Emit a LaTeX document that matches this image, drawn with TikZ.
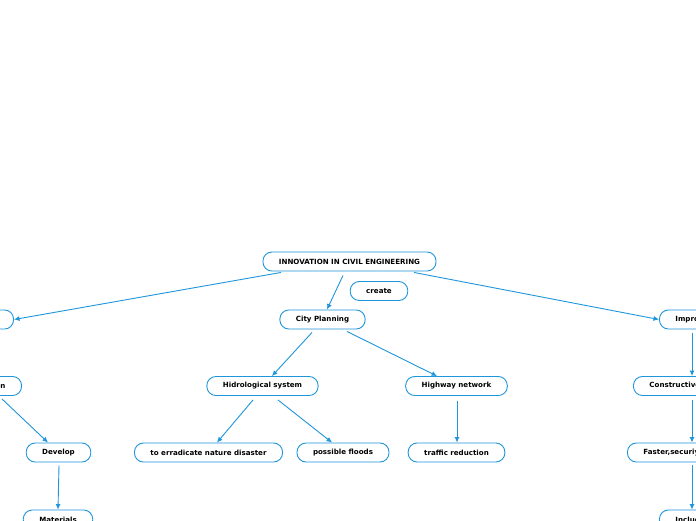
\documentclass[tikz,border=0pt]{standalone}
\usepackage{fontspec}
\setmainfont{DejaVu Sans}
\usetikzlibrary{arrows.meta}
\definecolor{mapblue}{RGB}{30,150,220}
\begin{document}
\begin{tikzpicture}[x=1pt, y=-1pt,
		topic/.style = {draw=mapblue, line width=0.9pt, rounded corners=9pt, fill=white,
			minimum height=19pt, inner xsep=16pt, inner ysep=0pt,
			font=\bfseries\fontsize{7.1}{8}\selectfont},
		link/.style = {draw=mapblue, line width=0.9pt, -{Latex[length=5.5pt,width=5pt]}}]
		\useasboundingbox[clip] (0,0) rectangle (696,520);
		\fill[white] (0,0) rectangle (696,520);
		% centre
		\node [topic] (root) at (349.5,261.5) {INNOVATION IN CIVIL ENGINEERING};
		\node [topic] (create) at (379,291) {create};
		\node [topic] (city) at (322.5,319.5) {City Planning};
		\node [topic, anchor=east] (tech) at (14,319.5) {Technology};
		\node [topic, anchor=west] (impr) at (659,319.5) {Improvement};
		% second row
		\node [topic] (hidro) at (262.5,386) {Hidrological system};
		\node [topic] (highway) at (456.5,386) {Highway network};
		\node [topic, anchor=east] (innov) at (22,386) {Innovation};
		\node [topic, anchor=west] (constr) at (633,386) {Constructive process};
		% third row
		\node [topic] (develop) at (58.5,452.5) {Develop};
		\node [topic] (erradicate) at (208.5,452.5) {to erradicate nature disaster};
		\node [topic] (floods) at (343,452.5) {possible floods};
		\node [topic] (traffic) at (456.5,452.5) {traffic reduction};
		\node [topic, anchor=west] (faster) at (627,452.5) {Faster,securiy};
		% bottom row
		\node [topic] (materials) at (58,519.5) {Materials};
		\node [topic, anchor=west] (inclu) at (659,519.5) {Includes};
		% links
		\draw [link] ([shift={(-68.5,1)}]root.south) -- (tech.east);
		\draw [link] ([shift={(-6.5,4)}]root.south) -- ([xshift=4.5pt]city.north);
		\draw [link] ([shift={(64.5,1)}]root.south) -- (impr.west);
		\draw [link] ([shift={(-10.5,3)}]city.south) -- ([xshift=9.5pt]hidro.north);
		\draw [link] ([shift={(24.5,2)}]city.south) -- ([xshift=-19.5pt]highway.north);
		\draw [link] ([shift={(-9.5,4)}]hidro.south) -- ([xshift=8.5pt]erradicate.north);
		\draw [link] ([shift={(15.5,4)}]hidro.south) -- ([xshift=-11pt]floods.north);
		\draw [link] ([shift={(0.5,5)}]highway.south) -- ([xshift=0.5pt]traffic.north);
		\draw [link] ([shift={(-20,3)}]innov.south east) -- ([xshift=-10.5pt]develop.north);
		\draw [link] ([shift={(0.5,3)}]develop.south) -- (materials.north);
		\draw [link] ([shift={(33,4)}]impr.south west) -- ([xshift=59pt]constr.north west);
		\draw [link] ([shift={(59,4)}]constr.south west) -- ([xshift=65pt]faster.north west);
		\draw [link] ([shift={(65,3)}]faster.south west) -- ([xshift=33pt]inclu.north west);
	\end{tikzpicture}
\end{document}
